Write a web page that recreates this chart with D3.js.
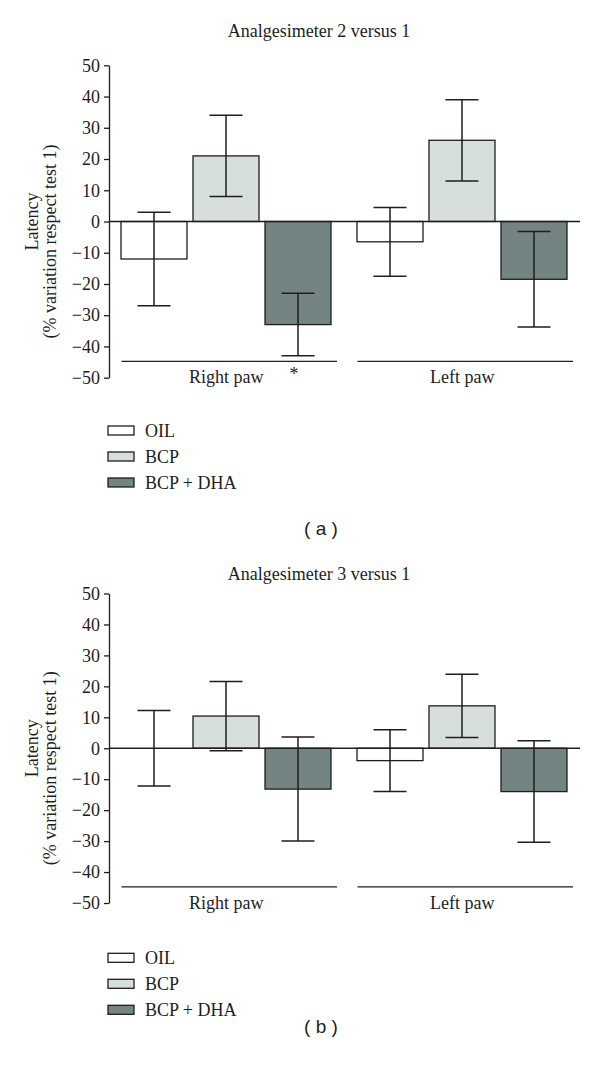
<!DOCTYPE html>
<html>
<head>
<meta charset="utf-8">
<script src="https://cdn.jsdelivr.net/npm/d3@7"></script>
<style>
  body { margin: 0; background: #fff; }
  svg { display: block; }
</style>
</head>
<body>
<svg id="chart" width="600" height="1072"></svg>
<script>
// ---- data ----
const groups = ["Right paw", "Left paw"];
const series = ["OIL", "BCP", "BCP + DHA"];
const yTicks = [50, 40, 30, 20, 10, 0, -10, -20, -30, -40, -50];
const titles = ["Analgesimeter 2 versus 1", "Analgesimeter 3 versus 1"];
const panelLabels = ["( a )", "( b )"];
// means per series (rows) per group (cols)
const meansA = [[-12, -6.5], [21, 26], [-33, -18.5]];
const errsA  = [[15, 11], [13, 13], [10, 15.3]];
const meansB = [[0, -4], [10.4, 13.7], [-13.2, -14]];
const errsB  = [[12.2, 10], [11.2, 10.2], [16.8, 16.4]];
const starsA = [{ group: "Right paw", series: "BCP + DHA", text: "*" }];
const starsB = [];
const fills = ["#ffffff", "#d6dfdd", "#738482"];

const svg = d3.select("#chart");
const serif = "'Liberation Serif', 'Times New Roman', serif";
const ink = "#1e1e1e";
const fs = 18;

function panel(cfg) {
  const g = svg.append("g");
  const y = d3.scaleLinear().domain([-50, 50]).range([cfg.yBottom, cfg.yTop]);
  const x0 = d3.scaleBand().domain(groups).range([121, 567]).paddingInner(26 / 236).paddingOuter(0);
  const x1 = d3.scaleBand().domain(series).range([0, x0.bandwidth()]).paddingInner(6 / 72).paddingOuter(0);
  const axisX = 109;

  // title
  g.append("text").attr("x", 319).attr("y", cfg.titleY).attr("text-anchor", "middle")
    .attr("font-family", serif).attr("font-size", fs).attr("fill", ink).text(cfg.title);

  // y axis
  const ax = g.append("g").attr("transform", `translate(${axisX},0)`)
    .call(d3.axisLeft(y).tickValues(yTicks).tickSize(5).tickPadding(4).tickSizeOuter(0));
  ax.select(".domain").attr("stroke", ink).attr("stroke-width", 1.3);
  ax.selectAll(".tick line").attr("stroke", ink).attr("stroke-width", 1.3);
  ax.selectAll(".tick text").attr("font-family", serif).attr("font-size", fs).attr("fill", ink);

  // y label
  const cy = y(0);
  g.append("text").attr("transform", `translate(37.5,${cy}) rotate(-90)`).attr("text-anchor", "middle")
    .attr("font-family", serif).attr("font-size", fs).attr("fill", ink).text("Latency");
  g.append("text").attr("transform", `translate(55.5,${cy + 20}) rotate(-90)`).attr("text-anchor", "middle")
    .attr("font-family", serif).attr("font-size", fs).attr("fill", ink).text("(% variation respect test 1)");

  // bars
  const data = [];
  series.forEach((s, si) => groups.forEach((gr, gi) => {
    data.push({ s, si, gr, v: cfg.means[si][gi], e: cfg.errs[si][gi] });
  }));
  g.selectAll("rect.bar").data(data).join("rect").attr("class", "bar")
    .attr("x", d => x0(d.gr) + x1(d.s))
    .attr("width", x1.bandwidth())
    .attr("y", d => y(Math.max(0, d.v)))
    .attr("height", d => Math.abs(y(d.v) - y(0)))
    .attr("fill", d => fills[d.si])
    .attr("stroke", ink).attr("stroke-width", 1.3);

  // zero line
  g.append("line").attr("x1", axisX).attr("x2", 580).attr("y1", y(0)).attr("y2", y(0))
    .attr("stroke", ink).attr("stroke-width", 1.3);

  // error bars
  const capW = x1.bandwidth() / 2;
  const eb = g.selectAll("g.eb").data(data).join("g").attr("class", "eb")
    .attr("transform", d => `translate(${x0(d.gr) + x1(d.s) + x1.bandwidth() / 2},0)`);
  eb.append("line").attr("x1", 0).attr("x2", 0)
    .attr("y1", d => y(d.v + d.e)).attr("y2", d => y(d.v - d.e))
    .attr("stroke", ink).attr("stroke-width", 1.5);
  [1, -1].forEach(sign => {
    eb.append("line").attr("x1", -capW / 2).attr("x2", capW / 2)
      .attr("y1", d => y(d.v + sign * d.e)).attr("y2", d => y(d.v + sign * d.e))
      .attr("stroke", ink).attr("stroke-width", 1.5);
  });

  // group underlines and labels
  groups.forEach(gr => {
    const xs = x0(gr) + 0.5, xe = x0(gr) + x0.bandwidth() + 6;
    g.append("line").attr("x1", xs).attr("x2", xe).attr("y1", y(-44.8)).attr("y2", y(-44.8))
      .attr("stroke", ink).attr("stroke-width", 1.3);
    g.append("text").attr("x", (xs + xe) / 2 - 3).attr("y", y(-44.8) + 22).attr("text-anchor", "middle")
      .attr("font-family", serif).attr("font-size", fs).attr("fill", ink).text(gr);
  });

  // significance stars
  cfg.stars.forEach(st => {
    g.append("text").attr("x", x0(st.group) + x1(st.series) + x1.bandwidth() / 2 - 4)
      .attr("y", y(-44.8) + 19).attr("text-anchor", "middle")
      .attr("font-family", serif).attr("font-size", fs).attr("fill", ink).text(st.text);
  });

  // legend
  series.forEach((s, i) => {
    const top = cfg.legendY + i * 26;
    g.append("rect").attr("x", 108).attr("y", top).attr("width", 26).attr("height", 9)
      .attr("fill", fills[i]).attr("stroke", ink).attr("stroke-width", 1.3);
    g.append("text").attr("x", 145).attr("y", top + 11).attr("font-family", serif)
      .attr("font-size", fs).attr("fill", ink).text(s);
  });

  // panel label
  g.append("text").attr("x", 321).attr("y", cfg.labelY).attr("text-anchor", "middle")
    .attr("font-family", "'Liberation Sans', Arial, sans-serif").attr("font-size", 19)
    .attr("fill", ink).text(cfg.label);
}

panel({ title: titles[0], titleY: 37, yTop: 65.3, yBottom: 377.7, means: meansA, errs: errsA,
        stars: starsA, legendY: 426, labelY: 535, label: panelLabels[0] });
panel({ title: titles[1], titleY: 580, yTop: 593.5, yBottom: 903, means: meansB, errs: errsB,
        stars: starsB, legendY: 953.3, labelY: 1033, label: panelLabels[1] });
</script>
</body>
</html>
